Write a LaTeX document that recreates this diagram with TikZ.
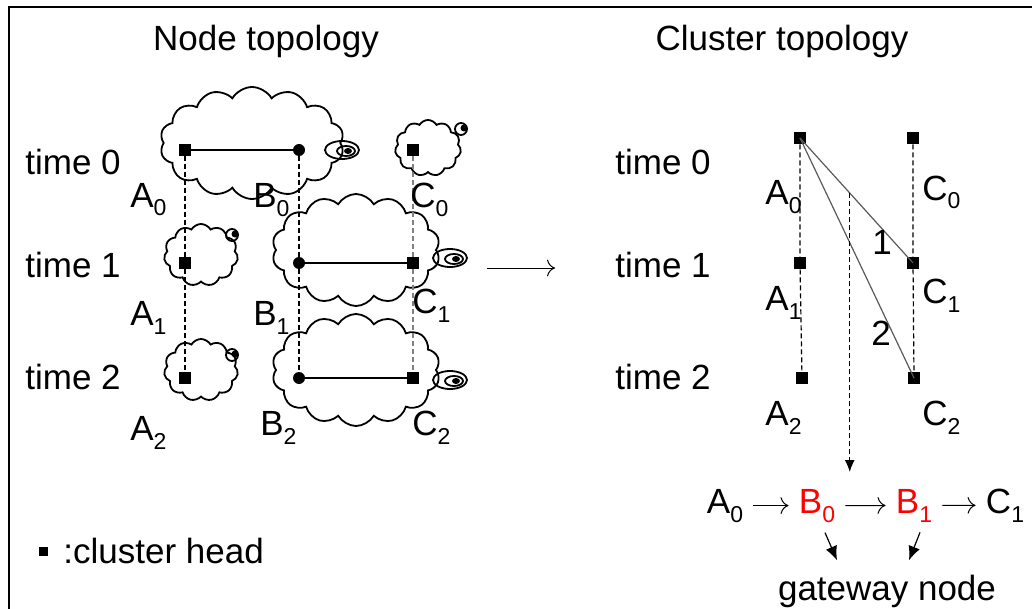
\documentclass[tikz,border=0pt]{standalone}
\usepackage{fontspec}
\setmainfont{Liberation Sans}
\usetikzlibrary{shapes.symbols,arrows.meta}

\newcommand{\lowidx}[1]{\raisebox{-4.5pt}{\fontsize{11.5}{12}\selectfont #1}}

\tikzset{
  chead/.style={fill, minimum size=6pt, inner sep=0pt},
  member/.style={circle, fill, minimum size=6pt, inner sep=0pt},
  lbl/.style={anchor=base west, inner sep=0pt},
  vlink/.style={line width=0.6pt, dash pattern=on 2.5pt off 1.5pt},
  puffy/.style={cloud, draw, line width=0.9pt, cloud puffs=14,
    cloud puff arc=120, cloud ignores aspect},
  smallpuffy/.style={puffy, cloud puffs=11},
  swirl/.style={line width=0.9pt},
  hop/.style={line width=0.5pt, -{To[length=4pt]}},
}

\begin{document}
\begin{tikzpicture}[x=0.5pt, y=-0.5pt, font=\fontsize{17.5}{21}\selectfont]
  \useasboundingbox (0,0) rectangle (1032,609);
  % frame
  \draw[line width=1pt] (9,609) -- (9,7) -- (1032,7);
  % titles
  \node[anchor=base] (ttlL) at (266,51) {Node topology};
  \node[anchor=base] (ttlR) at (782,51) {Cluster topology};

  % ---- node topology ----
  \node[lbl] (tL0) at (25,175) {time 0};
  \node[lbl] (tL1) at (25,277) {time 1};
  \node[lbl] (tL2) at (25,389) {time 2};
  % clouds
  \node[puffy, minimum width=92pt, minimum height=56pt] (cl0) at (252,143) {};
  \node[smallpuffy, minimum width=33pt, minimum height=28pt] (clC0) at (428,148) {};
  \node[smallpuffy, minimum width=37pt, minimum height=31pt] (clA1) at (201,255) {};
  \node[puffy, minimum width=84pt, minimum height=56pt] (cl1) at (356,250) {};
  \node[smallpuffy, minimum width=37pt, minimum height=31pt] (clA2) at (201,370) {};
  \node[puffy, minimum width=84pt, minimum height=56pt] (cl2) at (356,370) {};
  % swirls on the big clouds
  \draw[swirl] (342,150) ellipse [x radius=17, y radius=9];
  \draw[swirl] (346,151) ellipse [x radius=9, y radius=5];
  \fill (348,151) ellipse [x radius=4, y radius=3];
  \draw[swirl] (450,258) ellipse [x radius=17, y radius=9];
  \draw[swirl] (454,259) ellipse [x radius=9, y radius=5];
  \fill (456,259) ellipse [x radius=4, y radius=3];
  \draw[swirl] (450,380) ellipse [x radius=17, y radius=9];
  \draw[swirl] (454,381) ellipse [x radius=9, y radius=5];
  \fill (456,381) ellipse [x radius=4, y radius=3];
  % small bubbles on the small clouds
  \draw[swirl] (461,129) circle [radius=6];
  \fill (464,128) circle [radius=3.5];
  \draw[swirl] (232,235) circle [radius=6];
  \fill (235,234) circle [radius=3.5];
  \draw[swirl] (232,355) circle [radius=6];
  \fill (235,354) circle [radius=3.5];
  % members
  \node[chead] (A0) at (185,150) {};
  \node[member] (B0) at (299,150) {};
  \node[chead] (C0) at (413,150) {};
  \node[chead] (A1) at (185,263) {};
  \node[member] (B1) at (299,263) {};
  \node[chead] (C1) at (413,263) {};
  \node[chead] (A2) at (185,378) {};
  \node[member] (B2) at (299,378) {};
  \node[chead] (C2) at (413,378) {};
  \draw[vlink] (A0) -- (A1) -- (A2);
  \draw[vlink] (B0) -- (B1) -- (B2);
  \draw[vlink, gray] (C0) -- (C1) -- (C2);
  \draw[line width=0.6pt] (A0) -- (B0);
  \draw[line width=0.6pt] (B1) -- (C1);
  \draw[line width=0.6pt] (B2) -- (C2);
  % labels
  \node[lbl] (lA0) at (130,207) {A\lowidx{0}};
  \node[lbl] (lB0) at (253,208) {B\lowidx{0}};
  \node[lbl] (lC0) at (410,208) {C\lowidx{0}};
  \node[lbl] (lA1) at (130,325) {A\lowidx{1}};
  \node[lbl] (lB1) at (253,325) {B\lowidx{1}};
  \node[lbl] (lC1) at (412,313) {C\lowidx{1}};
  \node[lbl] (lA2) at (130,440) {A\lowidx{2}};
  \node[lbl] (lB2) at (260,435) {B\lowidx{2}};
  \node[lbl] (lC2) at (412,435) {C\lowidx{2}};

  % arrow between panels
  \coordinate (flowL) at (487,268);
  \coordinate (flowR) at (555,268);
  \draw[hop] (flowL) -- (flowR);

  % ---- cluster topology ----
  \node[lbl] (tR0) at (615,175) {time 0};
  \node[lbl] (tR1) at (615,277) {time 1};
  \node[lbl] (tR2) at (615,389) {time 2};
  \node[chead] (rA0) at (800,138) {};
  \node[chead] (rA1) at (800,263) {};
  \node[chead] (rA2) at (802,378) {};
  \node[chead] (rC0) at (913,138) {};
  \node[chead] (rC1) at (913,263) {};
  \node[chead] (rC2) at (914,378) {};
  \draw[vlink] (rA0) -- (rA1) -- (rA2);
  \draw[vlink] (rC0) -- (rC1) -- (rC2);
  \draw[line width=0.6pt, gray!70!black] (rA0.center) -- (rC1.center);
  \draw[line width=0.6pt, gray!70!black] (rA0.center) -- (rC2.center);
  \node (w1) at (882,242) {1};
  \node (w2) at (881,333) {2};
  \node[lbl] (rlA0) at (765,205) {A\lowidx{0}};
  \node[lbl] (rlC0) at (922,200) {C\lowidx{0}};
  \node[lbl] (rlA1) at (765,310) {A\lowidx{1}};
  \node[lbl] (rlC1) at (922,303) {C\lowidx{1}};
  \node[lbl] (rlA2) at (765,425) {A\lowidx{2}};
  \node[lbl] (rlC2) at (922,425) {C\lowidx{2}};

  % gateway chain
  \node[anchor=base, inner sep=5pt] (cA0) at (725,513) {A\lowidx{0}};
  \node[anchor=base, inner sep=5pt, text=red] (cB0) at (817,513) {B\lowidx{0}};
  \node[anchor=base, inner sep=5pt, text=red] (cB1) at (914,513) {B\lowidx{1}};
  \node[anchor=base, inner sep=5pt] (cC1) at (1005,513) {C\lowidx{1}};
  \draw[hop] (cA0) -- (cB0);
  \draw[hop] (cB0) -- (cB1);
  \draw[hop] (cB1) -- (cC1);
  \path (rA0.center) -- (rC1.center) coordinate[pos=0.44] (split);
  \coordinate (gwTop) at (852,472);
  \draw[vlink, -{Latex[length=6pt,width=5pt]}] (split) -- (split |- gwTop);
  \node[anchor=base, inner sep=2pt] (gw) at (887,600) {gateway node};
  \draw[line width=0.6pt, -{Latex[length=7pt,width=6pt]}]
    ([xshift=4pt]cB0.south) -- ([xshift=-25pt,yshift=5pt]gw.north);
  \draw[line width=0.6pt, -{Latex[length=7pt,width=6pt]}]
    ([xshift=3pt]cB1.south) -- ([xshift=11pt,yshift=5pt]gw.north);

  % legend
  \node[chead, minimum size=4.5pt] (key) at (43,551) {};
  \node[anchor=west, inner sep=0pt] (keytxt) at (63,551) {:cluster head};
\end{tikzpicture}
\end{document}
